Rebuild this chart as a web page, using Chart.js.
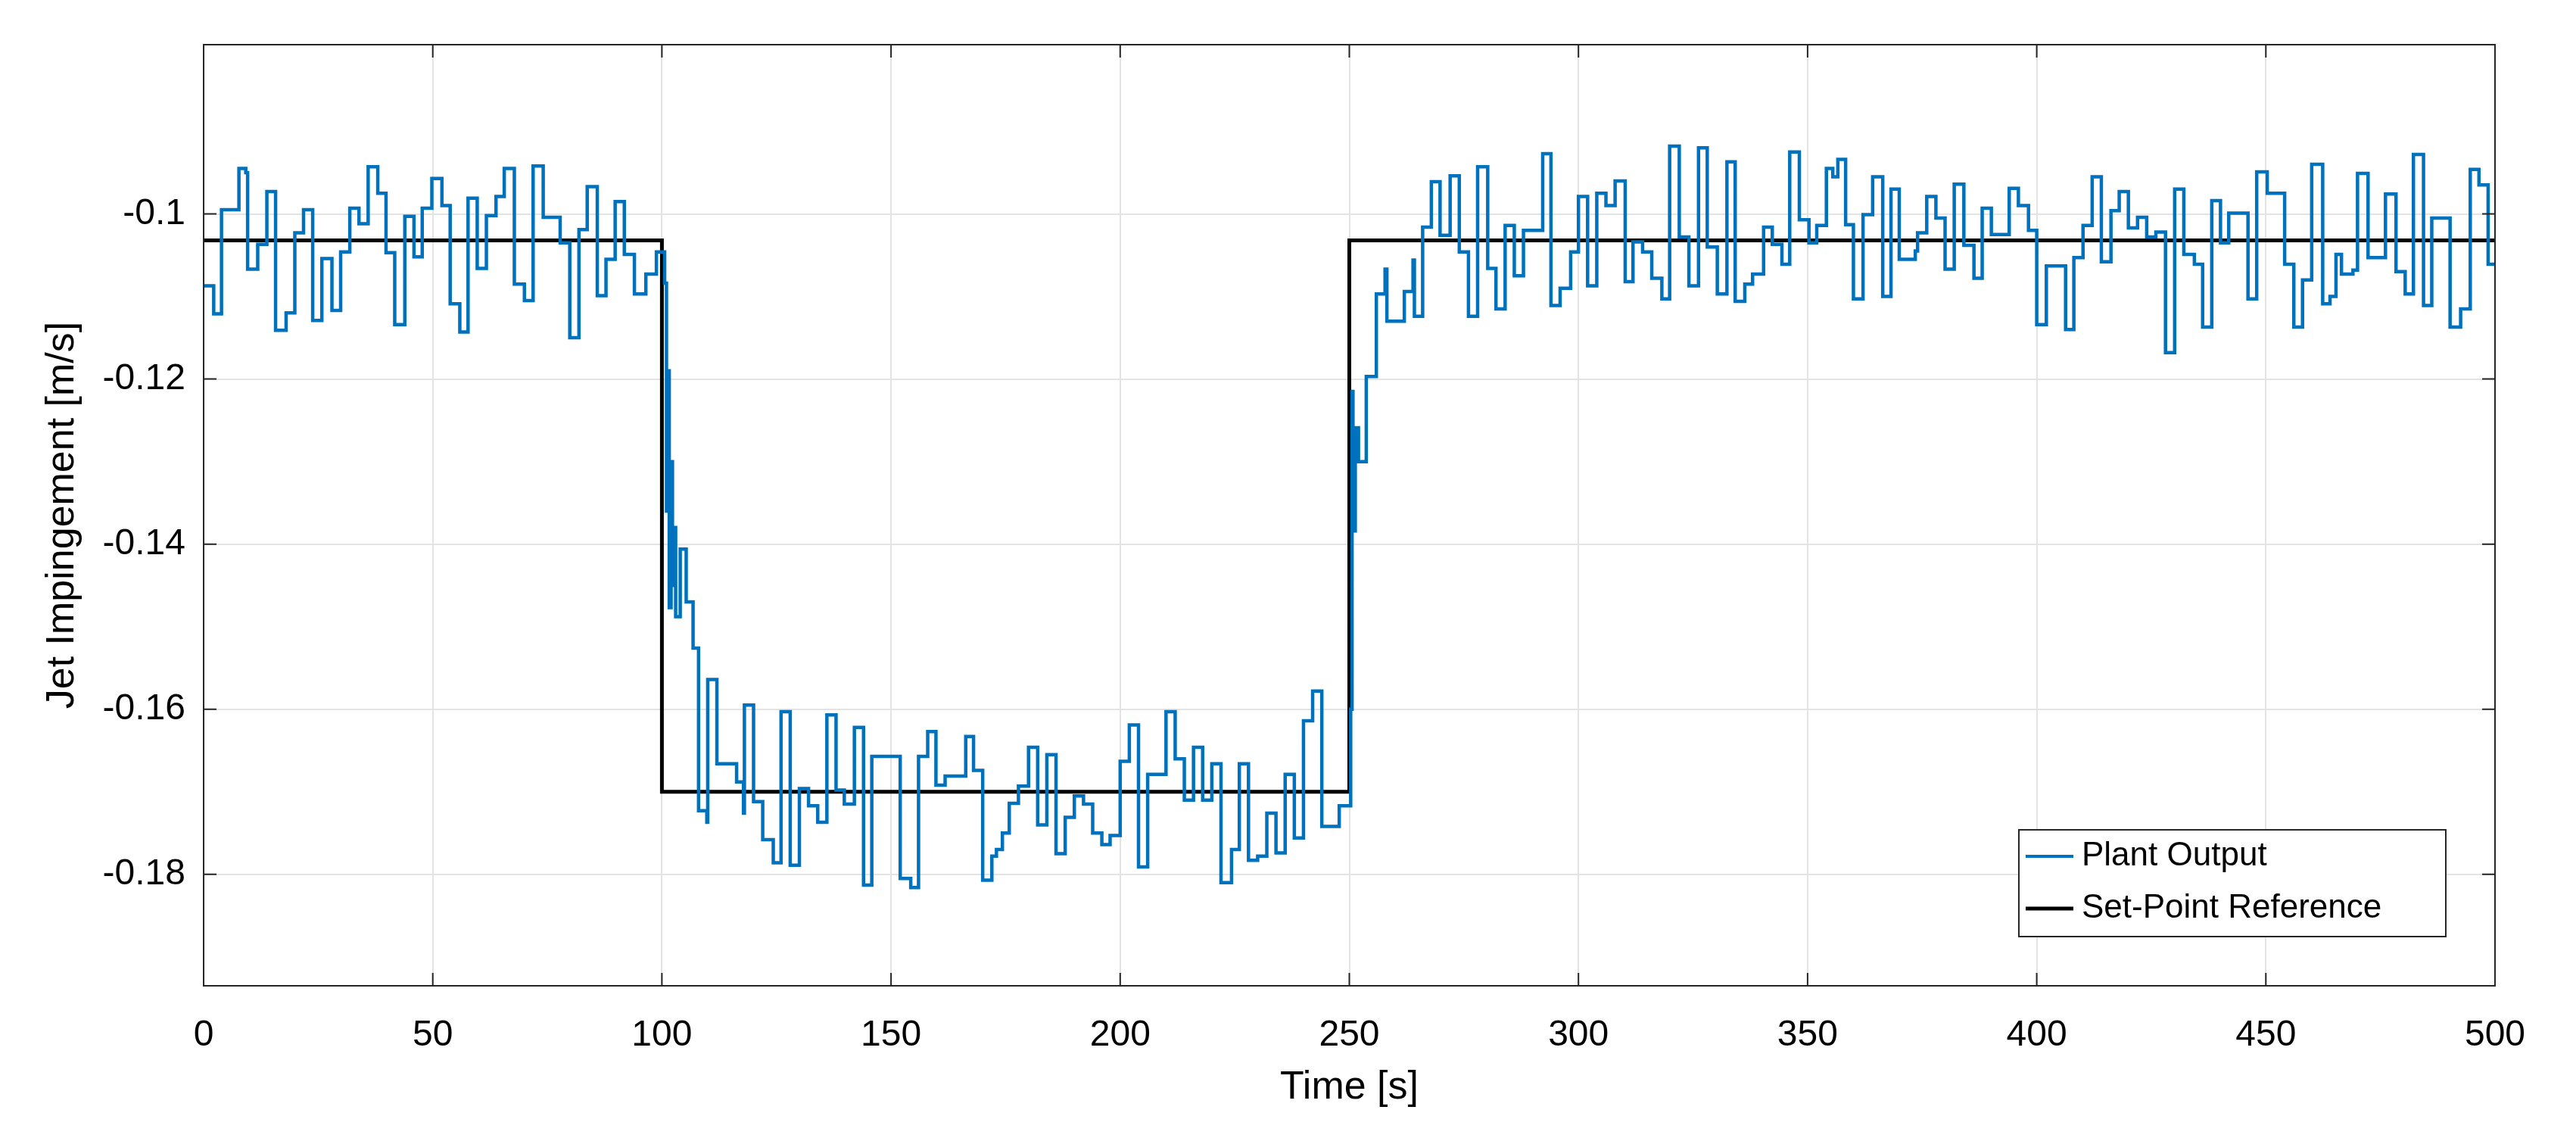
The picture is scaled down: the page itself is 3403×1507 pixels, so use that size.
<!DOCTYPE html>
<html><head><meta charset="utf-8">
<script src="https://cdn.jsdelivr.net/npm/chart.js@4.4.0/dist/chart.umd.min.js"></script>
<style>html,body{margin:0;padding:0;background:#fff}canvas{display:block}</style>
</head><body>
<canvas id="c" width="3403" height="1507" style="width:3403px;height:1507px"></canvas>
<script>
// ---- data (stepped plant output: step times and held values) ----
const outputTimes = [0,2.2,3.9,7.7,9.2,9.6,11.8,13.8,15.7,18,19.9,21.8,23.8,25.8,28,29.9,31.9,33.9,35.9,38,39.8,41.7,43.9,45.9,47.7,49.8,52,53.8,55.9,57.7,59.7,61.7,63.8,65.6,67.8,70,71.9,74.1,77.8,79.9,81.9,83.7,85.9,87.8,89.8,91.8,94,96.5,98.8,
100.6,101,101.3,101.6,102,102.3,102.6,103,104,105.3,106.8,108,109.8,110,112,116.3,117.8,118,120,122,124.3,126,128,130,132,134,136,138,139.8,142,144,145.8,152,154.3,156,158,159.8,161.8,166.3,168,170,172,173,174.3,175.8,177.8,180,182,184,186,188,190,192,194,196,197.8,200,202,204,206,210,212,214,216,218,220,222,224.3,226,228,230,232,234,236,238,240,242,244,246,247.8,
250.3,250.6,250.8,251.3,252,253.7,255.9,257.8,258.2,262,263.9,264.2,266,267.9,269.8,272,274,276,278,280.2,282,284,286,288,292.2,294,296,298.3,300,302,304,306,308,310.2,311.9,314,316,318.2,319.9,322,324.1,326.2,328.1,330.3,332.4,334.2,336.3,338,340.4,342.3,344.4,346.1,348.2,350.3,352,354.1,355.5,356.6,358.3,360,362.1,364.2,366.4,368.2,370,373.5,374,376,378,380,382,384.1,386.3,388.1,390.1,394,396,398.2,400,402.1,406.3,408.1,410.1,412.1,414.1,416.2,418,420,422,424,426,428.1,430.1,432.1,434.4,436.2,438.2,440.1,441.9,446.1,448,450.3,454.1,456.1,458,460,462.4,464,465.3,466.5,469,470,472.3,476.1,478.4,480.4,482.2,484.4,486.2,490.2,492.5,494.6,496.5,498.5,500];
const outputValues = [-0.1087,-0.1121,-0.0995,-0.0945,-0.0950,-0.1067,-0.1037,-0.0973,-0.1141,-0.1120,-0.1023,-0.0995,-0.1129,-0.1054,-0.1117,-0.1046,-0.0993,-0.1012,-0.0943,-0.0975,-0.1047,-0.1134,-0.1003,-0.1052,-0.0993,-0.0957,-0.0990,-0.1109,-0.1143,-0.0981,-0.1066,-0.1002,-0.0979,-0.0945,-0.1085,-0.1105,-0.0942,-0.1004,-0.1035,-0.1150,-0.1019,-0.0967,-0.1099,-0.1055,-0.0985,-0.1049,-0.1097,-0.1073,-0.1046,
-0.1084,-0.1360,-0.1190,-0.1477,-0.1300,-0.1450,-0.1380,-0.1488,-0.1406,-0.1470,-0.1526,-0.1723,-0.1737,-0.1564,-0.1666,-0.1688,-0.1726,-0.1595,-0.1712,-0.1758,-0.1786,-0.1603,-0.1789,-0.1696,-0.1717,-0.1737,-0.1607,-0.1698,-0.1715,-0.1622,-0.1813,-0.1657,-0.1805,-0.1816,-0.1657,-0.1627,-0.1692,-0.1681,-0.1633,-0.1674,-0.1807,-0.1778,-0.1770,-0.1750,-0.1714,-0.1693,-0.1646,-0.1740,-0.1655,-0.1775,-0.1731,-0.1705,-0.1715,-0.1750,-0.1764,-0.1753,-0.1663,-0.1619,-0.1791,-0.1679,-0.1603,-0.1660,-0.1710,-0.1646,-0.1710,-0.1666,-0.1810,-0.1770,-0.1666,-0.1783,-0.1778,-0.1726,-0.1774,-0.1679,-0.1756,-0.1614,-0.1578,-0.1742,-0.1742,-0.1717,
-0.1600,-0.1215,-0.1384,-0.1259,-0.1300,-0.1197,-0.1097,-0.1067,-0.1130,-0.1094,-0.1056,-0.1124,-0.1016,-0.0961,-0.1026,-0.0954,-0.1046,-0.1124,-0.0943,-0.1066,-0.1115,-0.1014,-0.1075,-0.1020,-0.0927,-0.1111,-0.1090,-0.1046,-0.0979,-0.1087,-0.0975,-0.0990,-0.0960,-0.1082,-0.1034,-0.1046,-0.1078,-0.1103,-0.0918,-0.1028,-0.1087,-0.0920,-0.1040,-0.1097,-0.0937,-0.1106,-0.1085,-0.1073,-0.1016,-0.1037,-0.1061,-0.0925,-0.1007,-0.1035,-0.1014,-0.0945,-0.0955,-0.0934,-0.1013,-0.1103,-0.1001,-0.0955,-0.1100,-0.0970,-0.1055,-0.1045,-0.1023,-0.0979,-0.1005,-0.1067,-0.0964,-0.1038,-0.1078,-0.0993,-0.1025,-0.0969,-0.0990,-0.1020,-0.1134,-0.1063,-0.1140,-0.1053,-0.1014,-0.0955,-0.1058,-0.0996,-0.0973,-0.1017,-0.1004,-0.1028,-0.1022,-0.1168,-0.0970,-0.1049,-0.1061,-0.1137,-0.0984,-0.1035,-0.0999,-0.1103,-0.0949,-0.0975,-0.1061,-0.1137,-0.1080,-0.0940,-0.1109,-0.1100,-0.1049,-0.1073,-0.1068,-0.0951,-0.1053,-0.0976,-0.1070,-0.1097,-0.0928,-0.1111,-0.1005,-0.1137,-0.1115,-0.0946,-0.0965,-0.1061,-0.1061];
const refTimes = [0,100,250,500];
const refValues = [-0.1032,-0.1700,-0.1032,-0.1032];
const xTicks = [0,50,100,150,200,250,300,350,400,450,500];
const yTicks = [-0.18,-0.16,-0.14,-0.12,-0.1];
const seriesLabels = ['Plant Output','Set-Point Reference'];
const xTitle = 'Time [s]';
const yTitle = 'Jet Impingement [m/s]';

const FONT = "'Liberation Sans', Arial, sans-serif";
const plantData = outputTimes.map((t,i)=>({x:t,y:outputValues[i]}));
const refData = refTimes.map((t,i)=>({x:t,y:refValues[i]}));

const frame = {
  id:'frame',
  afterDraw(chart){
    const {ctx, chartArea:a, scales:{x,y}} = chart;
    ctx.save();
    ctx.strokeStyle='#262626'; ctx.lineWidth=2;
    ctx.strokeRect(a.left,a.top,a.right-a.left,a.bottom-a.top);
    const L=17;
    ctx.beginPath();
    xTicks.forEach(v=>{const px=x.getPixelForValue(v);ctx.moveTo(px,a.bottom);ctx.lineTo(px,a.bottom-L);ctx.moveTo(px,a.top);ctx.lineTo(px,a.top+L);});
    yTicks.forEach(v=>{const py=y.getPixelForValue(v);ctx.moveTo(a.left,py);ctx.lineTo(a.left+L,py);ctx.moveTo(a.right,py);ctx.lineTo(a.right-L,py);});
    ctx.stroke();
    // legend
    const bx=2667, by=1096, bw=564, bh=141;
    ctx.fillStyle='#fff'; ctx.fillRect(bx,by,bw,bh);
    ctx.strokeStyle='#262626'; ctx.lineWidth=2; ctx.strokeRect(bx,by,bw,bh);
    const cols=['#0072BD','#000000'], widths=[4,5], rows=[by+35,by+104];
    ctx.font='44px '+FONT; ctx.textBaseline='middle'; ctx.textAlign='left';
    seriesLabels.forEach((lab,i)=>{
      ctx.strokeStyle=cols[i]; ctx.lineWidth=widths[i];
      ctx.beginPath(); ctx.moveTo(bx+9,rows[i]); ctx.lineTo(bx+72,rows[i]); ctx.stroke();
      ctx.fillStyle='#000'; ctx.fillText(lab,bx+83,rows[i]);
    });
    ctx.restore();
  }
};

new Chart(document.getElementById('c'),{
  type:'line',
  data:{datasets:[
    {label:seriesLabels[0],data:plantData,borderColor:'#0072BD',borderWidth:4.5,pointRadius:0,stepped:'before',fill:false},
    {label:seriesLabels[1],data:refData,borderColor:'#000000',borderWidth:5,pointRadius:0,stepped:'before',fill:false}
  ]},
  options:{
    responsive:false,devicePixelRatio:1,animation:false,
    layout:{padding:{top:59,right:107,left:0,bottom:0}},
    plugins:{legend:{display:false},tooltip:{enabled:false}},
    scales:{
      x:{type:'linear',min:0,max:500,
        afterFit(s){s.height=205;},
        afterBuildTicks(s){s.ticks=xTicks.map(v=>({value:v}));},
        grid:{color:'#e3e3e3',lineWidth:2,drawTicks:false},
        border:{display:false},
        ticks:{padding:37,color:'#000',font:{family:FONT,size:48},maxRotation:0,callback:v=>String(v)},
        title:{display:true,text:xTitle,color:'#000',font:{family:FONT,size:52},padding:{top:0,bottom:39}}
      },
      y:{type:'linear',min:-0.1935,max:-0.0795,
        afterFit(s){s.width=269;},
        afterBuildTicks(s){s.ticks=yTicks.map(v=>({value:v}));},
        grid:{color:'#e3e3e3',lineWidth:2,drawTicks:false},
        border:{display:false},
        ticks:{padding:24,color:'#000',font:{family:FONT,size:48},callback:v=>String(Math.round(v*100)/100)},
        title:{display:true,text:yTitle,color:'#000',font:{family:FONT,size:52},padding:{top:51,bottom:0}}
      }
    }
  },
  plugins:[frame]
});
</script>
</body></html>
